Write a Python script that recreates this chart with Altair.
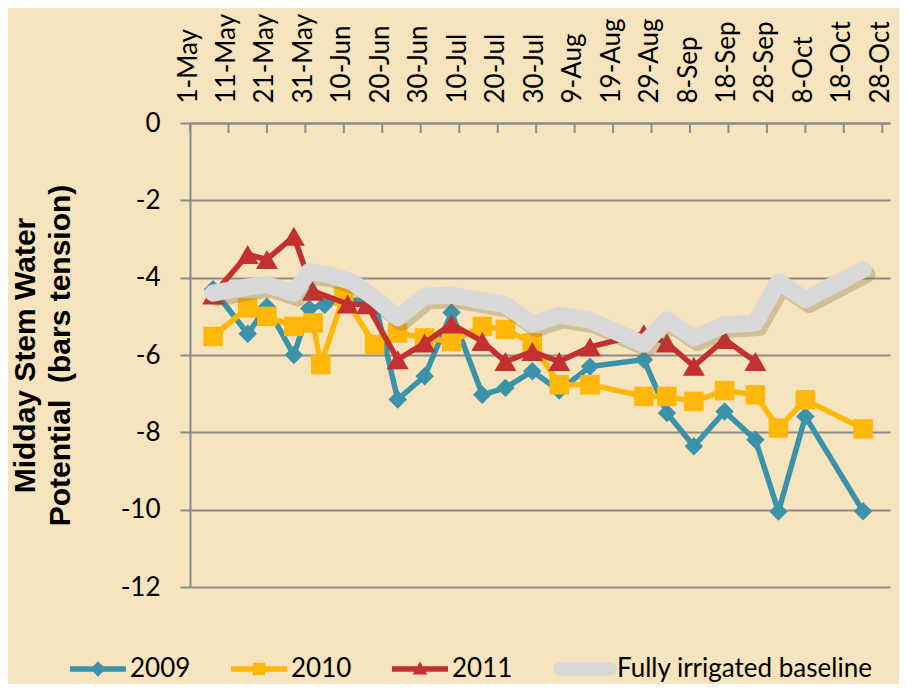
import altair as alt
import pandas as pd

# ---------------- data ----------------
series_names = ["2009", "2010", "2011", "Fully irrigated baseline"]
series_colors = ["#3A93AB", "#FFB80A", "#C42F2F", "#D9D9D9"]

dates_2009 = ["05-07", "05-16", "05-21", "05-28", "06-01", "06-05", "06-09", "06-18",
              "06-24", "07-01", "07-08", "07-16", "07-22", "07-29", "08-05", "08-13",
              "08-27", "09-02", "09-09", "09-17", "09-25", "10-01", "10-08", "10-23"]
vals_2009 = [-4.3, -5.45, -4.75, -6.0, -4.8, -4.7, -4.57, -4.6,
             -7.15, -6.55, -4.9, -7.03, -6.85, -6.42, -6.92, -6.3,
             -6.12, -7.5, -8.36, -7.46, -8.19, -10.05, -7.59, -10.04]

dates_2010 = ["05-07", "05-16", "05-21", "05-28", "06-02", "06-04", "06-10", "06-18",
              "06-24", "07-01", "07-08", "07-16", "07-22", "07-29", "08-05", "08-13",
              "08-27", "09-02", "09-09", "09-17", "09-25", "10-01", "10-08", "10-23"]
vals_2010 = [-5.52, -4.78, -5.0, -5.26, -5.17, -6.25, -4.48, -5.73,
             -5.43, -5.56, -5.65, -5.26, -5.34, -5.69, -6.77, -6.77,
             -7.07, -7.07, -7.2, -6.92, -7.03, -7.89, -7.16, -7.91]

dates_2011 = ["05-07", "05-16", "05-21", "05-28", "06-02", "06-11", "06-16", "06-24",
              "07-01", "07-08", "07-16", "07-22", "07-29", "08-05", "08-13", "08-27",
              "09-02", "09-09", "09-17", "09-25"]
vals_2011 = [-4.45, -3.4, -3.53, -2.93, -4.35, -4.68, -4.7, -6.12,
             -5.69, -5.2, -5.65, -6.17, -5.91, -6.17, -5.79, -5.45,
             -5.69, -6.29, -5.6, -6.17]

dates_base = ["05-07", "05-16", "05-21", "05-28", "06-01", "06-06", "06-12", "06-18",
              "06-24", "07-01", "07-08", "07-16", "07-22", "07-29", "08-05", "08-13",
              "08-27", "09-02", "09-09", "09-17", "09-25", "10-01", "10-08", "10-23"]
vals_base = [-4.4, -4.24, -4.18, -4.4, -3.84, -3.92, -4.1, -4.53,
             -5.04, -4.48, -4.45, -4.6, -4.7, -5.2, -4.97, -5.1,
             -5.72, -5.09, -5.56, -5.22, -5.17, -4.1, -4.57, -3.79]

tick_dates = ["05-01", "05-11", "05-21", "05-31", "06-10", "06-20", "06-30", "07-10",
              "07-20", "07-30", "08-09", "08-19", "08-29", "09-08", "09-18", "09-28",
              "10-08", "10-18", "10-28"]
y_ticks = [0, -2, -4, -6, -8, -10, -12]

YEAR = 2011


def frame(dates, vals, name):
    return pd.DataFrame({
        "date": [f"{YEAR}-{d}T00:00:00" for d in dates],
        "value": vals,
        "series": name,
    })


def dt(md):
    m, d = md.split("-")
    return alt.DateTime(year=YEAR, month=int(m), date=int(d))


df09 = frame(dates_2009, vals_2009, series_names[0])
df10 = frame(dates_2010, vals_2010, series_names[1])
df11 = frame(dates_2011, vals_2011, series_names[2])
dfb = frame(dates_base, vals_base, series_names[3])
ticks_df = pd.DataFrame({"date": [f"{YEAR}-{d}T00:00:00" for d in tick_dates]})

# ---------------- encodings ----------------
AXIS_GRAY = "#8C8C8C"
TICK_FONT = "Lato"

x_scale = alt.Scale(domain=[dt("05-01"), dt("10-30")], nice=False)
y_scale = alt.Scale(domain=[-12, 0], nice=False)
x_axis = alt.Axis(
    orient="top", values=[dt(d) for d in tick_dates], format="%-d-%b",
    labelAngle=270, labelAlign="left", labelBaseline="middle",
    labelFont=TICK_FONT, labelFontSize=26, labelColor="black",
    labelPadding=20, labelOffset=-2, labelOverlap=False, labelFlush=False,
    labelBound=False, ticks=False, grid=False, domainColor=AXIS_GRAY,
    domainWidth=2, title=None,
)
y_axis = alt.Axis(
    values=y_ticks, labelExpr="datum.value + ''", grid=True,
    gridColor=AXIS_GRAY, gridWidth=2,
    tickSize=10, tickColor=AXIS_GRAY, tickWidth=2,
    domainColor=AXIS_GRAY, domainWidth=2,
    labelFont=TICK_FONT, labelFontSize=26, labelColor="black", labelPadding=20,
    title=["Midday Stem Water", "Potential\u00a0 (bars tension)"],
    titleFont="Liberation Sans", titleFontSize=30, titleFontWeight="bold",
    titleColor="black", titleLineHeight=35, titleX=-165, titleY=232,
    titleBaseline="middle", titleAlign="center", titleAngle=270,
)

X = alt.X("date:T", scale=x_scale, axis=x_axis)
Y = alt.Y("value:Q", scale=y_scale, axis=y_axis)


def line(df, color, width):
    return alt.Chart(df).mark_line(color=color, strokeWidth=width,
                                   strokeJoin="round").encode(x=X, y=Y)


def points(df, color, shape, size):
    return alt.Chart(df).mark_point(color=color, filled=True, opacity=1,
                                    shape=shape, size=size).encode(x=X, y=Y)


shadow = alt.Chart(dfb).transform_calculate(
    sdate="time(datum.date) + 86400000", svalue="datum.value - 0.12"
).mark_line(color="#7A6236", opacity=0.28, strokeWidth=17, strokeCap="round",
            strokeJoin="round").encode(
    x=alt.X("sdate:T", scale=x_scale, axis=x_axis),
    y=alt.Y("svalue:Q", scale=y_scale, axis=y_axis),
)

base_line = alt.Chart(dfb).mark_line(color=series_colors[3], strokeWidth=17,
                                     strokeCap="round", strokeJoin="round").encode(x=X, y=Y)

tick_marks = alt.Chart(ticks_df).mark_rule(color=AXIS_GRAY, strokeWidth=2).encode(
    x=X, y=alt.value(0), y2=alt.value(10)
)

# legend-only layer (invisible marks, custom symbols)
bar = "M-1,-0.1L1,-0.1L1,0.1L-1,0.1Z"
legend_paths = [
    bar + " M0,-0.28L0.28,0L0,0.28L-0.28,0Z",
    bar + " M-0.22,-0.22L0.22,-0.22L0.22,0.22L-0.22,0.22Z",
    bar + " M0,-0.27L0.26,0.2L-0.26,0.2Z",
    "M-0.88,-0.25L0.88,-0.25A0.25,0.25 0 0 1 0.88,0.25L-0.88,0.25A0.25,0.25 0 0 1 -0.88,-0.25Z",
]
leg = dict(
    orient="none", legendX=-120, legendY=518, direction="horizontal", title=None,
    symbolSize=3136, symbolStrokeWidth=0, symbolOpacity=1,
    labelFont=TICK_FONT, labelFontSize=26, labelColor="black", labelOffset=4,
    labelLimit=500, columnPadding=40, padding=0,
)
legend_df = pd.DataFrame({"series": series_names})
legend_layer = alt.Chart(legend_df).mark_point(filled=True, opacity=0).encode(
    color=alt.Color("series:N", scale=alt.Scale(domain=series_names, range=series_colors),
                    legend=alt.Legend(**leg)),
    shape=alt.Shape("series:N", scale=alt.Scale(domain=series_names, range=legend_paths),
                    legend=alt.Legend(**leg)),
)

chart = alt.layer(
    tick_marks,
    line(df09, series_colors[0], 5.5), points(df09, series_colors[0], "diamond", 340),
    line(df10, series_colors[1], 5.5), points(df10, series_colors[1], "square", 380),
    line(df11, series_colors[2], 5.5), points(df11, series_colors[2], "triangle-up", 480),
    shadow, base_line,
    legend_layer,
).properties(
    width=700, height=464,
    autosize=alt.AutoSizeParams(type="none"),
    padding={"left": 182, "top": 115, "right": 9, "bottom": 97},
    background="#F5E4BD",
).configure_view(stroke=None)

chart.save("out.html", embed_options={"renderer": "svg", "actions": False})
